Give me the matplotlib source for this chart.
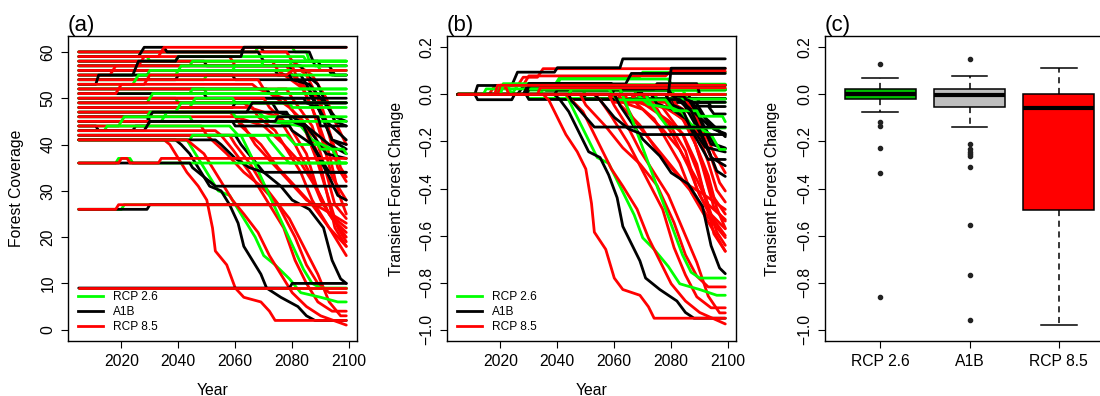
import matplotlib
matplotlib.use("Agg")
import matplotlib.pyplot as plt
from matplotlib.lines import Line2D
import numpy as np

# ---------------- data ----------------
scenarios = ["RCP 2.6", "A1B", "RCP 8.5"]
line_colors = ["#00FF00", "#000000", "#FF0000"]
box_colors = ["#00C000", "#BEBEBE", "#FF0000"]

# forest coverage runs per site: polyline vertices (year, coverage)
rcp26_runs = [
    [(2005, 60), (2067, 60), (2068, 61), (2080, 61), (2081, 60), (2085, 60), (2086, 58), (2099, 58)],
    [(2005, 59), (2029, 59), (2030, 58), (2099, 58)],
    [(2005, 58), (2039, 58), (2040, 59), (2084, 59), (2085, 58), (2099, 58)],
    [(2005, 57), (2044, 57), (2045, 58), (2079, 58), (2080, 57), (2099, 57)],
    [(2005, 56), (2059, 56), (2060, 57), (2089, 57), (2090, 56), (2099, 56)],
    [(2005, 55), (2029, 55), (2030, 56), (2099, 56)],
    [(2005, 54), (2049, 54), (2050, 55), (2099, 55)],
    [(2005, 53), (2024, 53), (2026, 55), (2039, 55), (2041, 57), (2069, 57), (2070, 58), (2099, 58)],
    [(2005, 52), (2049, 52), (2050, 51), (2074, 51), (2075, 52), (2099, 52)],
    [(2005, 51), (2044, 51), (2045, 52), (2099, 52)],
    [(2005, 50), (2039, 50), (2040, 49), (2099, 49)],
    [(2005, 49), (2029, 49), (2031, 51), (2099, 51)],
    [(2005, 48), (2044, 48), (2046, 50), (2059, 50), (2060, 49), (2099, 49)],
    [(2005, 47), (2068, 47), (2072, 45), (2083, 44), (2087, 41), (2094, 39), (2097, 36), (2099, 36)],
    [(2005, 46), (2029, 46), (2030, 47), (2039, 47), (2041, 49), (2079, 49), (2080, 48), (2099, 48)],
    [(2005, 45), (2034, 45), (2036, 47), (2059, 47), (2060, 46), (2099, 46)],
    [(2005, 44), (2019, 44), (2021, 46), (2044, 46), (2045, 45), (2099, 45)],
    [(2005, 43), (2014, 43), (2015, 44), (2058, 44), (2061, 42), (2078, 42), (2081, 40),
     (2089, 40), (2090, 39), (2098, 39), (2099, 38)],
    [(2005, 42), (2071, 42), (2072, 41), (2076, 38), (2079, 36), (2099, 36)],
    [(2005, 41), (2043, 41), (2045, 39), (2048, 36), (2051, 33), (2054, 30), (2058, 29),
     (2061, 26), (2064, 23), (2067, 20), (2070, 16), (2074, 14), (2079, 11), (2083, 8),
     (2090, 7), (2096, 6), (2099, 6)],
    [(2005, 41), (2044, 41), (2045, 42), (2062, 42), (2066, 37), (2069, 33), (2072, 29),
     (2075, 25), (2078, 21), (2081, 17), (2084, 13), (2087, 10), (2090, 9), (2099, 9)],
    [(2005, 36), (2018, 36), (2019, 37), (2023, 37), (2024, 36), (2099, 36)],
    [(2005, 26), (2020, 26), (2021, 27), (2099, 27)],
    [(2005, 9), (2099, 9)],
]

a1b_runs = [
    [(2005, 60), (2062, 60), (2063, 61), (2069, 61), (2070, 60), (2086, 60), (2088, 57),
     (2093, 57), (2095, 55), (2099, 55)],
    [(2005, 59), (2026, 59), (2028, 61), (2035, 61), (2036, 60), (2068, 60), (2070, 58),
     (2089, 58), (2090, 57), (2099, 57)],
    [(2005, 58), (2049, 58), (2050, 57), (2079, 57), (2080, 56), (2093, 56), (2094, 55), (2099, 55)],
    [(2005, 57), (2083, 57), (2085, 55), (2089, 53), (2091, 50), (2095, 45), (2099, 44)],
    [(2005, 56), (2074, 56), (2075, 55), (2083, 55), (2085, 53), (2090, 47), (2094, 41), (2099, 39)],
    [(2005, 55), (2059, 55), (2060, 54), (2099, 54)],
    [(2005, 54), (2039, 54), (2040, 55), (2079, 55), (2080, 54), (2086, 53), (2090, 50),
     (2095, 46), (2099, 45)],
    [(2005, 53), (2011, 53), (2012, 55), (2024, 55), (2026, 58), (2039, 58), (2040, 59),
     (2062, 59), (2063, 61), (2099, 61)],
    [(2005, 52), (2071, 52), (2072, 51), (2086, 51), (2089, 48), (2094, 41), (2099, 40)],
    [(2005, 51), (2049, 51), (2050, 50), (2099, 50)],
    [(2005, 50), (2084, 50), (2085, 49), (2089, 48), (2092, 45), (2099, 41)],
    [(2005, 49), (2073, 49), (2075, 47), (2080, 46), (2085, 44), (2092, 38), (2099, 37)],
    [(2005, 48), (2059, 48), (2060, 49), (2099, 49)],
    [(2005, 47), (2078, 47), (2080, 45), (2084, 44), (2087, 40), (2093, 34), (2099, 34)],
    [(2005, 46), (2029, 46), (2030, 45), (2083, 45), (2085, 44), (2093, 40), (2099, 38)],
    [(2005, 45), (2029, 45), (2031, 47), (2064, 47), (2066, 49), (2099, 49)],
    [(2005, 44), (2011, 44), (2012, 43), (2024, 43), (2025, 44), (2029, 44), (2030, 45),
     (2074, 45), (2075, 46), (2089, 46), (2090, 44), (2099, 44)],
    [(2005, 43), (2028, 43), (2030, 45), (2059, 45), (2060, 44), (2079, 44), (2080, 43),
     (2087, 40), (2093, 33), (2096, 29), (2099, 28)],
    [(2005, 42), (2060, 42), (2062, 40), (2066, 37), (2070, 34), (2076, 31), (2080, 28),
     (2086, 26), (2091, 22), (2094, 15), (2097, 11), (2099, 10)],
    [(2005, 41), (2039, 41), (2041, 40), (2044, 38), (2047, 35), (2051, 31), (2055, 30),
     (2058, 27), (2061, 23), (2063, 18), (2066, 15), (2069, 12), (2071, 9), (2076, 7),
     (2082, 5), (2085, 3), (2088, 2), (2099, 2)],
    [(2005, 41), (2053, 41), (2055, 40), (2060, 37), (2065, 35), (2070, 34), (2099, 34)],
    [(2005, 36), (2044, 36), (2045, 35), (2049, 33), (2053, 31), (2099, 31)],
    [(2005, 26), (2029, 26), (2030, 27), (2099, 27)],
    [(2005, 9), (2079, 9), (2080, 10), (2099, 10)],
]

rcp85_runs = [
    [(2005, 60), (2078, 60), (2080, 58), (2087, 55), (2092, 50), (2095, 45), (2099, 40)],
    [(2005, 59), (2058, 59), (2060, 57), (2078, 57), (2080, 55), (2089, 50), (2093, 42),
     (2096, 35), (2099, 32)],
    [(2005, 58), (2073, 58), (2075, 56), (2084, 52), (2089, 45), (2093, 38), (2096, 30), (2099, 25)],
    [(2005, 57), (2080, 57), (2082, 54), (2087, 48), (2091, 40), (2094, 33), (2099, 28)],
    [(2005, 56), (2083, 56), (2085, 55), (2090, 49), (2094, 41), (2097, 35), (2099, 33)],
    [(2005, 55), (2016, 55), (2018, 57), (2026, 57), (2028, 59), (2033, 59), (2035, 61), (2099, 61)],
    [(2005, 54), (2068, 54), (2070, 52), (2079, 48), (2084, 45), (2089, 38), (2092, 30),
     (2095, 22), (2099, 18)],
    [(2005, 53), (2066, 53), (2068, 52), (2077, 50), (2084, 44), (2089, 36), (2093, 28),
     (2096, 22), (2099, 19)],
    [(2005, 52), (2078, 52), (2080, 50), (2087, 44), (2091, 36), (2095, 27), (2099, 24)],
    [(2005, 51), (2018, 51), (2020, 53), (2028, 53), (2030, 55), (2078, 55), (2080, 56), (2099, 56)],
    [(2005, 50), (2070, 50), (2072, 48), (2079, 44), (2085, 38), (2089, 30), (2093, 25), (2099, 20)],
    [(2005, 49), (2063, 49), (2065, 48), (2075, 46), (2081, 40), (2086, 34), (2090, 28),
     (2094, 24), (2099, 21)],
    [(2005, 48), (2066, 48), (2068, 46), (2074, 43), (2079, 38), (2083, 34), (2087, 28),
     (2091, 24), (2095, 20), (2099, 16)],
    [(2005, 47), (2058, 47), (2060, 46), (2070, 44), (2077, 40), (2083, 36), (2089, 30),
     (2093, 25), (2099, 22)],
    [(2005, 46), (2060, 46), (2062, 44), (2069, 40), (2075, 35), (2081, 31), (2087, 27),
     (2093, 22), (2099, 18)],
    [(2005, 45), (2061, 45), (2063, 44), (2067, 40), (2073, 36), (2079, 32), (2085, 28),
     (2091, 26), (2099, 23)],
    [(2005, 44), (2048, 44), (2050, 42), (2057, 38), (2063, 34), (2069, 31), (2075, 27),
     (2081, 20), (2085, 14), (2089, 10), (2093, 8), (2099, 8)],
    [(2005, 43), (2053, 43), (2055, 42), (2059, 39), (2065, 34), (2071, 28), (2077, 22),
     (2081, 15), (2085, 10), (2089, 6), (2094, 4), (2099, 4)],
    [(2005, 42), (2058, 42), (2060, 40), (2065, 36), (2069, 32), (2074, 28), (2079, 24),
     (2084, 18), (2089, 12), (2093, 6), (2097, 3), (2099, 3)],
    [(2005, 41), (2035, 41), (2037, 40), (2040, 37), (2043, 34), (2047, 31), (2050, 28),
     (2052, 22), (2053, 17), (2057, 14), (2060, 9), (2063, 7), (2069, 6), (2072, 4),
     (2074, 2), (2099, 2)],
    [(2005, 41), (2043, 41), (2045, 40), (2049, 38), (2054, 33), (2059, 28), (2063, 25),
     (2068, 21), (2072, 16), (2076, 12), (2080, 8), (2085, 5), (2090, 3), (2099, 1)],
    [(2005, 36), (2019, 36), (2020, 37), (2022, 37), (2023, 36), (2033, 36), (2034, 37), (2099, 37)],
    [(2005, 26), (2018, 26), (2019, 27), (2099, 27)],
    [(2005, 9), (2099, 9)],
]

# boxplot statistics of transient forest change (panel c)
box_whislo = [-0.074, -0.14, -0.98]
box_q1 = [-0.019, -0.054, -0.493]
box_med = [0.0, -0.003, -0.057]
box_q3 = [0.021, 0.021, 0.0]
box_whishi = [0.069, 0.077, 0.11]
box_fliers = [
    [0.127, -0.119, -0.133, -0.226, -0.336, -0.86],
    [0.151, -0.211, -0.231, -0.243, -0.253, -0.264, -0.309, -0.553, -0.769, -0.959],
    [],
]

# ---------------- figure ----------------
plt.rcParams['font.family'] = ['Liberation Sans', 'DejaVu Sans']
plt.rcParams['axes.unicode_minus'] = True

W, H = 1100, 396
fig = plt.figure(figsize=(W / 100, H / 100), dpi=100)


def ax_at(left_px, width_px=289, top_px=36, bottom_px=341):
    return fig.add_axes([left_px / W, 1 - bottom_px / H,
                         width_px / W, (bottom_px - top_px) / H])


ax_a = ax_at(68)
ax_b = ax_at(447)
ax_c = ax_at(825)

TICKFS = 11.3


def style_axes(ax, label):
    for s in ax.spines.values():
        s.set_linewidth(1.0)
    ax.tick_params(direction='out', length=5, width=0.8, labelsize=TICKFS,
                   pad=4)
    ax.tick_params(axis='y', labelrotation=90)
    for t in ax.get_yticklabels():
        t.set_va('center')
    ax.text(0.0, 1.0, label, transform=ax.transAxes, fontsize=16,
            ha='left', va='bottom')


def draw_runs(ax, relative):
    all_runs = [rcp26_runs, a1b_runs, rcp85_runs]
    for i in range(len(rcp85_runs)):
        for runs, col in zip(all_runs, line_colors):
            yrs = np.array([p[0] for p in runs[i]], dtype=float)
            vals = np.array([p[1] for p in runs[i]], dtype=float)
            if relative:
                vals = (vals - vals[0]) / vals[0]
            ax.plot(yrs, vals, color=col, lw=2,
                    solid_joinstyle='round', solid_capstyle='round')
    handles = [Line2D([0], [0], color=c, lw=2) for c in line_colors]
    ax.legend(handles, scenarios, loc='lower left', frameon=False,
              fontsize=8.6, handlelength=2.1, handletextpad=0.85,
              labelspacing=0.27, borderpad=0, borderaxespad=0,
              bbox_to_anchor=(0.035, 0.025))


YT_LABELS = ["\u22121.0", "\u22120.8", "\u22120.6", "\u22120.4",
             "\u22120.2", "0.0", "0.2"]
YT_VALUES = [-1.0, -0.8, -0.6, -0.4, -0.2, 0.0, 0.2]

# panel (a)
draw_runs(ax_a, relative=False)
ax_a.set_xlim(2001.24, 2102.76)
ax_a.set_ylim(-2.44, 63.44)
ax_a.set_xticks([2020, 2040, 2060, 2080, 2100])
ax_a.set_yticks([0, 10, 20, 30, 40, 50, 60])
style_axes(ax_a, "(a)")
ax_a.set_ylabel("Forest Coverage", fontsize=TICKFS)
ax_a.yaxis.set_label_coords(-44 / 289, 0.5)
ax_a.set_xlabel("Year", fontsize=TICKFS)
ax_a.xaxis.set_label_coords(0.5, -42 / 305)

# panel (b)
draw_runs(ax_b, relative=True)
ax_b.set_xlim(2001.24, 2102.76)
ax_b.set_ylim(-1.048, 0.248)
ax_b.set_xticks([2020, 2040, 2060, 2080, 2100])
ax_b.set_yticks(YT_VALUES)
ax_b.set_yticklabels(YT_LABELS)
style_axes(ax_b, "(b)")
ax_b.set_ylabel("Transient Forest Change", fontsize=TICKFS)
ax_b.yaxis.set_label_coords(-43 / 289, 0.5)
ax_b.set_xlabel("Year", fontsize=TICKFS)
ax_b.xaxis.set_label_coords(0.5, -42 / 305)

# panel (c)
stats = []
for k in range(3):
    stats.append(dict(whislo=box_whislo[k], q1=box_q1[k], med=box_med[k],
                      q3=box_q3[k], whishi=box_whishi[k],
                      fliers=np.array(box_fliers[k]), label=scenarios[k]))
bp = ax_c.bxp(stats, positions=[1, 2, 3], widths=0.8, capwidths=0.4,
              patch_artist=True, showfliers=True,
              boxprops=dict(linewidth=1.1, edgecolor='black'),
              medianprops=dict(color='black', linewidth=3),
              whiskerprops=dict(color='black', linewidth=1.1,
                                linestyle=(0, (4, 3))),
              capprops=dict(color='black', linewidth=1.1),
              flierprops=dict(marker='o', markerfacecolor='#222222',
                              markeredgecolor='#222222', markersize=3,
                              linestyle='none'))
for patch, col in zip(bp['boxes'], box_colors):
    patch.set_facecolor(col)
ax_c.set_xlim(0.38, 3.62)
ax_c.set_ylim(-1.048, 0.248)
ax_c.set_yticks(YT_VALUES)
ax_c.set_yticklabels(YT_LABELS)
style_axes(ax_c, "(c)")
ax_c.set_ylabel("Transient Forest Change", fontsize=TICKFS)
ax_c.yaxis.set_label_coords(-45 / 289, 0.5)

fig.savefig("out.png", dpi=100)
